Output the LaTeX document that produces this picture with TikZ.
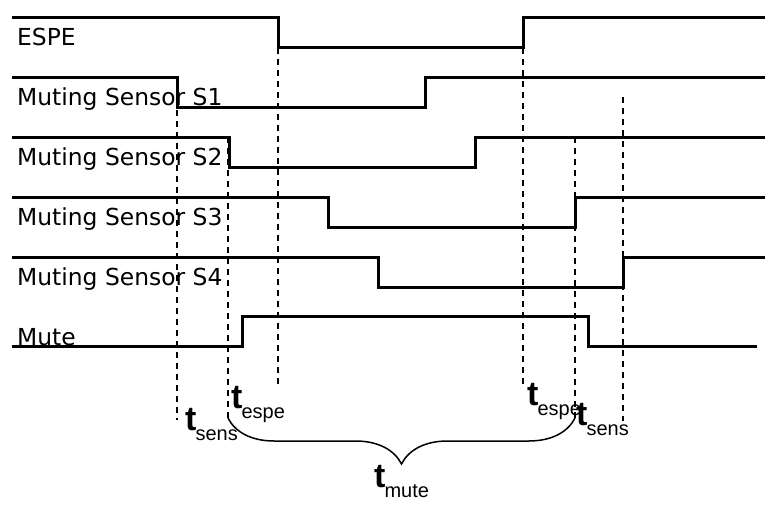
\documentclass[tikz,border=0pt]{standalone}
\usepackage{fontspec}
\setmainfont{DejaVu Sans}
\newfontfamily\timefont{Liberation Sans}
\usetikzlibrary{decorations.pathreplacing}
\tikzset{
  signal/.style={line width=3pt},
  guide/.style={line width=1.6pt, dash pattern=on 6pt off 5pt},
  siglabel/.style={anchor=base west, inner sep=0pt, font=\fontsize{23.4}{28}\selectfont},
  timelabel/.style={anchor=base west, inner sep=0pt, font=\timefont},
  span/.style={line width=1.5pt, decorate, decoration={brace, amplitude=46pt, mirror}},
}
\newcommand{\tsub}[1]{{\fontsize{34}{36}\selectfont\bfseries t}\kern-1pt\raisebox{-10pt}{\fontsize{20}{22}\selectfont #1}}

\begin{document}
\begin{tikzpicture}[x=1pt, y=-1pt]
  \useasboundingbox (0,0) rectangle (782,506);
  % inputs: high, low from \down to \up, high again
  \foreach \name/\hi/\down/\up [count=\i] in {ESPE/17/278/523, Muting Sensor S1/77/177/425,
      Muting Sensor S2/137/229/475, Muting Sensor S3/197/328/575, Muting Sensor S4/257/378/623}{
    \draw[signal] (12,\hi) -| (\down,\hi+30) -| (\up,\hi) -- (765,\hi);
    \node[siglabel] (sig\i) at (17,\hi+28) {\name};
  }
  \draw[signal] (12,346) -| (242,316) -| (588,346) -- (757,346);
  \node[siglabel] (mute) at (17,345) {Mute};

  % guide lines
  \draw[guide] (177,77) -- (177,420);
  \draw[guide] (228,137) -- (228,418);
  \draw[guide] (278,48) -- (278,388);
  \draw[guide] (523,48) -- (523,387);
  \draw[guide] (575,137) -- (575,418);
  \draw[guide] (623,97) -- (623,421);

  \coordinate (muteL) at (228,418);
  \coordinate (muteR) at (575,418);
  \draw[span] (muteL) -- (muteR);

  \node[timelabel] (espeL) at (231,408) {\tsub{espe}};
  \node[timelabel] (sensL) at (185,430) {\tsub{sens}};
  \node[timelabel] (tmute) at (374,487) {\tsub{mute}};
  \node[timelabel] (espeR) at (527,405) {\tsub{espe}};
  \node[timelabel] (sensR) at (576,425) {\tsub{sens}};
\end{tikzpicture}
\end{document}
